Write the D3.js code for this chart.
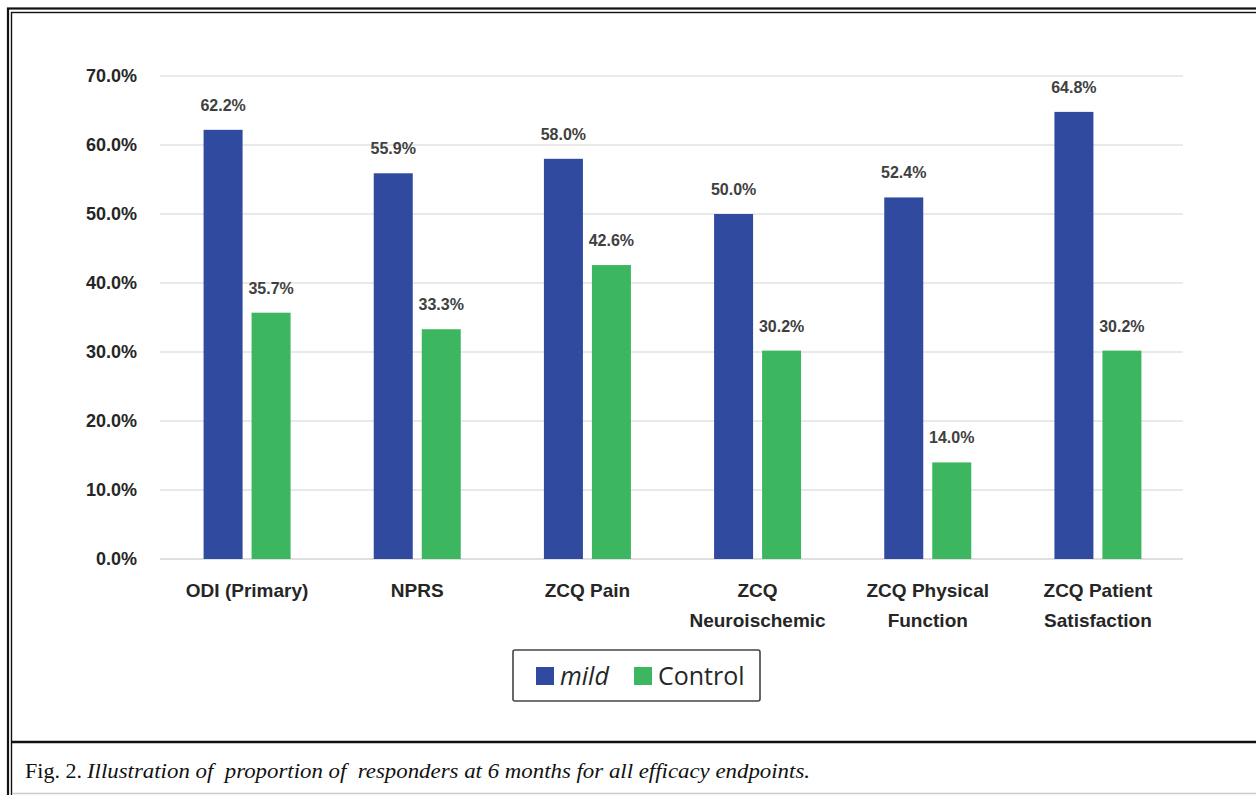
<!DOCTYPE html>
<html lang="en">
<head>
    <meta charset="UTF-8">
    <title>Proportion of responders at 6 months</title>
    <script src="https://d3js.org/d3.v7.min.js"></script>
    <style>
        body { margin: 0; background: #fff; }
        svg { display: block; }
    </style>
</head>
<body>
    <div id="chart"></div>
    <script>
        // data
        const categories = ["ODI (Primary)", "NPRS", "ZCQ Pain", "ZCQ Neuroischemic", "ZCQ Physical Function", "ZCQ Patient Satisfaction"];
        const categoryLines = [["ODI (Primary)"], ["NPRS"], ["ZCQ Pain"], ["ZCQ", "Neuroischemic"], ["ZCQ Physical", "Function"], ["ZCQ Patient", "Satisfaction"]];
        const series = ["mild", "Control"];
        const mildValues = [62.2, 55.9, 58.0, 50.0, 52.4, 64.8];
        const controlValues = [35.7, 33.3, 42.6, 30.2, 14.0, 30.2];
        const yTicks = [0, 10, 20, 30, 40, 50, 60, 70];
        const colors = { mild: "#2f4a9e", Control: "#3db660" };

        const width = 1256, height = 795;
        const svg = d3.select("#chart").append("svg")
            .attr("width", width).attr("height", height);

        // frame (double rule on left/top, single rule above caption)
        svg.append("rect").attr("x", 8).attr("y", 8.5).attr("width", 1300).attr("height", 820)
            .attr("fill", "none").attr("stroke", "#111").attr("stroke-width", 2.2);
        svg.append("rect").attr("x", 11.5).attr("y", 12.5).attr("width", 1300).attr("height", 820)
            .attr("fill", "none").attr("stroke", "#111").attr("stroke-width", 1.4);
        svg.append("line").attr("x1", 11).attr("x2", width).attr("y1", 742).attr("y2", 742)
            .attr("stroke", "#111").attr("stroke-width", 2.5);
        svg.append("line").attr("x1", 12).attr("x2", width).attr("y1", 793.5).attr("y2", 793.5)
            .attr("stroke", "#ccc").attr("stroke-width", 1.5);

        // scales
        const x0 = d3.scaleBand().domain(categories).range([162, 1183]);
        const bw = x0.bandwidth();
        const x1 = d3.scaleBand().domain(series)
            .range([bw / 2 - 43.5, bw / 2 + 43.5]).paddingInner(0.1875);
        const y = d3.scaleLinear().domain([0, 70]).range([559, 76]);

        // gridlines
        svg.append("g").selectAll("line").data(yTicks).join("line")
            .attr("x1", 160).attr("x2", 1183)
            .attr("y1", d => y(d)).attr("y2", d => y(d))
            .attr("stroke", d => d === 0 ? "#d4d4d4" : "#e2e2e2")
            .attr("stroke-width", 1.5);

        // y tick labels
        svg.append("g").selectAll("text").data(yTicks).join("text")
            .attr("x", 137).attr("y", d => y(d))
            .attr("dy", "0.36em")
            .attr("text-anchor", "end")
            .attr("font-family", "Liberation Sans, Arial, sans-serif")
            .attr("font-weight", "bold").attr("font-size", 18)
            .attr("fill", "#262626")
            .text(d => d.toFixed(1) + "%");

        // bars
        const rows = categories.map((c, i) => ({
            cat: c,
            vals: [{ s: "mild", v: mildValues[i] }, { s: "Control", v: controlValues[i] }]
        }));

        const groups = svg.append("g").selectAll("g").data(rows).join("g")
            .attr("transform", d => `translate(${x0(d.cat)},0)`);

        groups.selectAll("rect").data(d => d.vals).join("rect")
            .attr("x", d => x1(d.s))
            .attr("width", x1.bandwidth())
            .attr("y", d => y(d.v))
            .attr("height", d => y(0) - y(d.v))
            .attr("fill", d => colors[d.s]);

        groups.selectAll("text.val").data(d => d.vals).join("text")
            .attr("class", "val")
            .attr("x", d => x1(d.s) + x1.bandwidth() / 2)
            .attr("y", d => y(d.v) - 19)
            .attr("text-anchor", "middle")
            .attr("font-family", "Liberation Sans, Arial, sans-serif")
            .attr("font-weight", "bold").attr("font-size", 16)
            .attr("fill", "#404040")
            .text(d => d.v.toFixed(1) + "%");

        // category labels
        const catLabels = svg.append("g").selectAll("text").data(categories).join("text")
            .attr("x", d => x0(d) + bw / 2)
            .attr("y", 597)
            .attr("text-anchor", "middle")
            .attr("font-family", "Liberation Sans, Arial, sans-serif")
            .attr("font-weight", "bold").attr("font-size", 19)
            .attr("fill", "#262626");
        catLabels.selectAll("tspan").data((d, i) => categoryLines[i]).join("tspan")
            .attr("x", function () { return d3.select(this.parentNode).attr("x"); })
            .attr("dy", (d, i) => i === 0 ? 0 : 30)
            .text(d => d);

        // legend
        const legend = svg.append("g");
        legend.append("rect").attr("x", 513).attr("y", 650).attr("width", 247).attr("height", 51)
            .attr("rx", 2).attr("fill", "#fff").attr("stroke", "#444").attr("stroke-width", 1.6);
        const legendItems = [
            { s: "mild", x: 536, italic: true },
            { s: "Control", x: 634, italic: false }
        ];
        legend.selectAll("rect.sw").data(legendItems).join("rect")
            .attr("class", "sw")
            .attr("x", d => d.x).attr("y", 667)
            .attr("width", 18).attr("height", 18)
            .attr("fill", d => colors[d.s]);
        legend.selectAll("text").data(legendItems).join("text")
            .attr("x", d => d.x + 24).attr("y", 685)
            .attr("font-family", "Open Sans, sans-serif")
            .attr("font-size", 25)
            .attr("font-style", d => d.italic ? "italic" : "normal")
            .attr("fill", "#262626")
            .text(d => d.s);

        // caption
        svg.append("text")
            .attr("x", 25).attr("y", 778)
            .attr("font-family", "Liberation Serif, Times New Roman, serif")
            .attr("font-size", 21)
            .attr("fill", "#111")
            .attr("textLength", 57).attr("lengthAdjust", "spacingAndGlyphs")
            .text("Fig. 2.");
        svg.append("text")
            .attr("x", 87).attr("y", 778)
            .attr("font-family", "Liberation Serif, Times New Roman, serif")
            .attr("font-size", 21)
            .attr("font-style", "italic")
            .attr("fill", "#111")
            .style("white-space", "pre")
            .attr("textLength", 723).attr("lengthAdjust", "spacingAndGlyphs")
            .text("Illustration of  proportion of  responders at 6 months for all efficacy endpoints.");
    </script>
</body>
</html>
